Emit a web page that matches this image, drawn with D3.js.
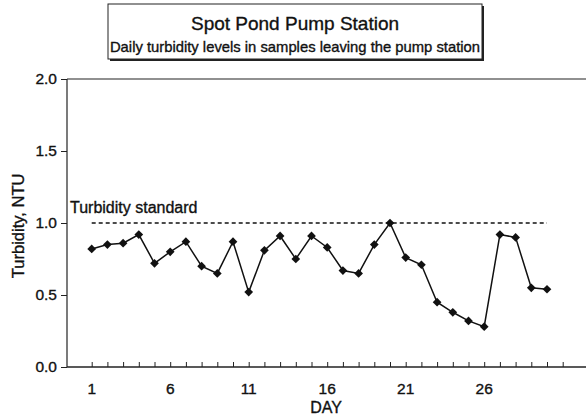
<!DOCTYPE html>
<html>
<head>
<meta charset="utf-8">
<script src="https://cdn.jsdelivr.net/npm/d3@7"></script>
<style>
  body { margin: 0; background: white; }
  text { font-family: "Liberation Sans", Arial, sans-serif; fill: #111; stroke: #111; stroke-width: 0.35px; }
</style>
</head>
<body>
<svg width="586" height="417"></svg>
<script>
// data
var days = d3.range(1, 31);
var turbidity = [0.82, 0.85, 0.86, 0.92, 0.72, 0.80, 0.87, 0.70, 0.65, 0.87,
                 0.52, 0.81, 0.91, 0.75, 0.91, 0.83, 0.67, 0.65, 0.85, 1.00,
                 0.76, 0.71, 0.45, 0.38, 0.32, 0.28, 0.92, 0.90, 0.55, 0.54];
var yTicks = [0, 0.5, 1.0, 1.5, 2.0];
var xTickLabels = [1, 6, 11, 16, 21, 26];
var xTickDays = d3.range(1, 32);
var standard = 1.0;

var svg = d3.select("svg"),
    width = +svg.attr("width"),
    height = +svg.attr("height");

var plotLeft = 67, plotTop = 79, plotBottom = 367;

var x = d3.scaleLinear().domain([1, 31]).range([91.7, 562.7]);
var y = d3.scaleLinear().domain([0, 2]).range([plotBottom, plotTop]);

// title box with shadow
svg.append("rect")
    .attr("x", 110).attr("y", 6)
    .attr("width", 374).attr("height", 55)
    .style("fill", "#222");
svg.append("rect")
    .attr("x", 108).attr("y", 4)
    .attr("width", 374).attr("height", 55)
    .style("fill", "white")
    .style("stroke", "#222")
    .style("stroke-width", 1);

svg.append("text")
    .attr("x", 295).attr("y", 30)
    .attr("text-anchor", "middle")
    .attr("font-size", 19)
    .text("Spot Pond Pump Station");

svg.append("text")
    .attr("x", 295).attr("y", 52)
    .attr("text-anchor", "middle")
    .attr("font-size", 14.8)
    .text("Daily turbidity levels in samples leaving the pump station");

// frame: top line, left axis, bottom axis
svg.append("line")
    .attr("x1", plotLeft).attr("x2", width)
    .attr("y1", plotTop).attr("y2", plotTop)
    .style("stroke", "#222").style("stroke-width", 1.2);

svg.append("line")
    .attr("x1", plotLeft).attr("x2", plotLeft)
    .attr("y1", plotTop).attr("y2", plotBottom)
    .style("stroke", "#222").style("stroke-width", 1.2);

svg.append("line")
    .attr("x1", plotLeft).attr("x2", width)
    .attr("y1", plotBottom).attr("y2", plotBottom)
    .style("stroke", "#222").style("stroke-width", 1.5);

// y axis ticks and labels
var yAxis = d3.axisLeft(y)
    .tickValues(yTicks)
    .tickFormat(d3.format(".1f"))
    .tickSize(6)
    .tickPadding(4);
var gy = svg.append("g")
    .attr("transform", "translate(" + plotLeft + ",0)")
    .call(yAxis);
gy.select(".domain").remove();
gy.selectAll("text")
    .attr("font-size", 15.5)
    .style("font-family", '"Liberation Sans", Arial, sans-serif')
    .style("fill", "#111");
gy.selectAll("line").style("stroke", "#222");

// x axis: small inward ticks every day, labels every 5 days
var xAxis = d3.axisTop(x)
    .tickValues(xTickDays)
    .tickFormat("")
    .tickSize(5);
var gx = svg.append("g")
    .attr("transform", "translate(0," + plotBottom + ")")
    .call(xAxis);
gx.select(".domain").remove();
gx.selectAll("line").style("stroke", "#222");

svg.append("g")
    .selectAll("text")
    .data(xTickLabels)
    .enter()
    .append("text")
    .attr("x", function(d) { return x(d); })
    .attr("y", 394)
    .attr("text-anchor", "middle")
    .attr("font-size", 15.5)
    .text(function(d) { return d; });

// axis titles
svg.append("text")
    .attr("x", 326).attr("y", 413)
    .attr("text-anchor", "middle")
    .attr("font-size", 16)
    .text("DAY");

svg.append("text")
    .attr("transform", "translate(24," + y(0.98) + ") rotate(-90)")
    .attr("text-anchor", "middle")
    .attr("font-size", 16.5)
    .text("Turbidity, NTU");

// turbidity standard
svg.append("line")
    .attr("x1", x(1)).attr("x2", x(30))
    .attr("y1", y(standard)).attr("y2", y(standard))
    .style("stroke", "#111")
    .style("stroke-width", 1.5)
    .style("stroke-dasharray", "4,3");

svg.append("text")
    .attr("x", 70).attr("y", y(standard) - 10)
    .attr("font-size", 16)
    .text("Turbidity standard");

// series
var data = days.map(function(d, i) { return {day: d, v: turbidity[i]}; });

svg.append("path")
    .datum(data)
    .attr("d", d3.line()
        .x(function(d) { return x(d.day); })
        .y(function(d) { return y(d.v); }))
    .style("fill", "none")
    .style("stroke", "#111")
    .style("stroke-width", 1.5);

svg.append("g")
    .selectAll("path")
    .data(data)
    .enter()
    .append("path")
    .attr("transform", function(d) { return "translate(" + x(d.day) + "," + y(d.v) + ") rotate(45)"; })
    .attr("d", d3.symbol().type(d3.symbolSquare).size(38))
    .style("fill", "#111");
</script>
</body>
</html>
